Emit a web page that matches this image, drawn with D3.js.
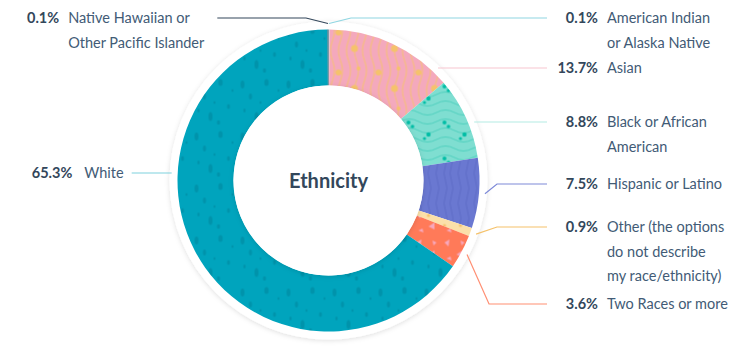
<!DOCTYPE html>
<html>
<head>
<meta charset="utf-8">
<script src="https://cdn.jsdelivr.net/npm/d3@7"></script>
<style>
  body { margin: 0; background: #fff; }
  text { font-family: Lato, "Open Sans", sans-serif; fill: #33475b; }
  .pct { font-weight: 700; font-size: 14.5px; }
  .lbl { font-size: 14.5px; fill: #425b76; }
  .title { font-weight: 700; font-size: 20px; }
</style>
</head>
<body>
<div id="chart"></div>
<script>
// data, clockwise from 12 o'clock
const categories = ['American Indian or Alaska Native', 'Asian', 'Black or African American',
  'Hispanic or Latino', 'Other (the options do not describe my race/ethnicity)',
  'Two Races or more', 'White', 'Native Hawaiian or Other Pacific Islander'];
const shares = [0.1, 13.7, 8.8, 7.5, 0.9, 3.6, 65.3, 0.1];
const labelLines = [
  ['American Indian', 'or Alaska Native'],
  ['Asian'],
  ['Black or African', 'American'],
  ['Hispanic or Latino'],
  ['Other (the options', 'do not describe', 'my race/ethnicity)'],
  ['Two Races or more'],
  ['White'],
  ['Native Hawaiian or', 'Other Pacific Islander']
];
const sliceColors = ['#8fdbe6', '#f4a9bd', '#7fded1', '#6a78d1', '#fbe0a9', '#ff7a59', '#00a4bd', '#33475b'];
const lineColors = ['#8fd6e2', '#f8c6cf', '#b4ebe4', '#7e8ad8', '#f5c26b', '#ff8f73', '#7fd1de', '#33475b'];

// label layout (first-line centre y)
const labelY = [18, 68, 122, 184, 227, 304, 173, 18];

const W = 735, H = 354;
const cx = 328.5, cy = 180.5, rOuter = 151, rInner = 95, rLine = 157;
const lineH = 24.5;

const svg = d3.select('#chart').append('svg')
    .attr('width', W).attr('height', H);
const defs = svg.append('defs');

const sh = defs.append('filter').attr('id', 'shadow')
    .attr('x', '-20%').attr('y', '-20%').attr('width', '140%').attr('height', '140%');
sh.append('feDropShadow').attr('dx', 0).attr('dy', 1).attr('stdDeviation', 2.5)
    .attr('flood-color', '#000').attr('flood-opacity', 0.13);

// textures
function pattern(id, w, h, bg, draw) {
  const p = defs.append('pattern').attr('id', id)
      .attr('patternUnits', 'userSpaceOnUse').attr('width', w).attr('height', h);
  p.append('rect').attr('width', w).attr('height', h).attr('fill', bg);
  draw(p);
}
pattern('p-white', 46, 52, sliceColors[6], p => {
  [[6,8,2,4],[14,20,1.6,3],[30,6,2.2,3.5],[38,30,1.5,2.5],[20,40,2,4.5],[8,34,1.2,2],[28,46,1.6,2.2],[42,14,1,1.6],[24,26,1,1.5]]
    .forEach(d => p.append('ellipse').attr('cx', d[0]).attr('cy', d[1]).attr('rx', d[2]).attr('ry', d[3]).attr('fill', '#0093ab'));
});
pattern('p-asian', 40, 40, sliceColors[1], p => {
  for (let i = 0; i < 5; i++) {
    p.append('path').attr('d', `M${4 + i * 8},0 q4,10 0,20 q-4,10 0,20`)
        .attr('fill', 'none').attr('stroke', '#f5c26b').attr('stroke-width', 1.2).attr('opacity', 0.75);
  }
  [[10,12,3],[26,28,3.5],[30,8,2]].forEach(d => p.append('circle').attr('cx', d[0]).attr('cy', d[1]).attr('r', d[2]).attr('fill', '#f5c26b'));
});
pattern('p-black', 36, 36, sliceColors[2], p => {
  for (let i = 0; i < 4; i++) {
    p.append('path').attr('d', `M0,${4 + i * 9} q9,-5 18,0 q9,5 18,0`)
        .attr('fill', 'none').attr('stroke', '#4fcfbe').attr('stroke-width', 1);
  }
  [[8,14,2],[12,18,1.8],[28,26,2.2],[24,30,1.6]].forEach(d => p.append('circle').attr('cx', d[0]).attr('cy', d[1]).attr('r', d[2]).attr('fill', '#00bda5'));
});
pattern('p-hisp', 30, 30, sliceColors[3], p => {
  for (let i = 0; i < 4; i++) {
    p.append('path').attr('d', `M${3 + i * 8},0 q3,8 0,15 q-3,8 0,15`)
        .attr('fill', 'none').attr('stroke', '#5d6bc6').attr('stroke-width', 1);
  }
});
pattern('p-other', 16, 10, sliceColors[4], p => {
  p.append('circle').attr('cx', 4).attr('cy', 5).attr('r', 1.6).attr('fill', '#f5c26b');
});
pattern('p-two', 28, 28, sliceColors[5], p => {
  ['M4,6 l5,-3 l-1,7 z', 'M16,18 l6,-4 l0,7 z', 'M20,4 l4,2 l-3,3 z', 'M6,22 l4,-2 l1,4 z']
    .forEach(d => p.append('path').attr('d', d).attr('fill', '#f7a8bd'));
});
const fills = ['#8fdbe6', 'url(#p-asian)', 'url(#p-black)', 'url(#p-hisp)', 'url(#p-other)', 'url(#p-two)', 'url(#p-white)', '#33475b'];

const data = categories.map((c, i) => ({name: c, value: shares[i], i}));
const pie = d3.pie().sort(null).value(d => d.value);
const arcs = pie(data);
const arc = d3.arc().innerRadius(rInner).outerRadius(rOuter);

// white halo behind the ring
svg.append('circle').attr('cx', cx).attr('cy', cy).attr('r', rOuter + 8)
    .attr('fill', '#fff').attr('filter', 'url(#shadow)');

const g = svg.append('g').attr('transform', `translate(${cx},${cy})`);
g.selectAll('path.slice')
    .data(arcs)
  .join('path')
    .attr('class', 'slice')
    .attr('d', arc)
    .attr('fill', d => fills[d.data.i]);

g.append('circle').attr('r', rInner).attr('fill', '#fff').attr('filter', 'url(#shadow)');
g.append('text').attr('class', 'title')
    .attr('text-anchor', 'middle').attr('dy', '0.35em')
    .text('Ethnicity');

// labels and connectors
const rightPctX = 598, rightTxtX = 607, rightLineEnd = 547;
const leftBlockX = 27, minRun = 40;
const polar = (a, r) => [cx + r * Math.sin(a), cy - r * Math.cos(a)];

arcs.forEach(d => {
  const i = d.data.i;
  const mid = (d.startAngle + d.endAngle) / 2;
  const right = Math.sin(mid) >= 0 || mid < 0.01;
  const y = labelY[i];

  // horizontal hit on the connector circle, if it falls inside a wide slice
  const dy = y - cy;
  let hitX = null;
  const span = d.endAngle - d.startAngle;
  if (Math.abs(dy) < rLine && span > Math.PI / 6) {
    const dx = Math.sqrt(rLine * rLine - dy * dy) * (right ? 1 : -1);
    let a = Math.atan2(dx, -dy);
    if (a < 0) a += 2 * Math.PI;
    if (a > d.startAngle && a < d.endAngle) hitX = cx + dx;
  }

  const lab = svg.append('g');
  let blockEnd;
  if (right) {
    lab.append('text').attr('class', 'pct').attr('x', rightPctX).attr('y', y).attr('dy', '0.35em')
        .attr('text-anchor', 'end').text(shares[i] + '%');
    labelLines[i].forEach((t, k) => lab.append('text').attr('class', 'lbl')
        .attr('x', rightTxtX).attr('y', y + k * lineH).attr('dy', '0.35em').text(t));
    blockEnd = rightLineEnd;
  } else {
    const pct = lab.append('text').attr('class', 'pct').attr('x', 0).attr('y', y).attr('dy', '0.35em')
        .text(shares[i] + '%');
    const tx = pct.node().getComputedTextLength() + (labelLines[i].length > 1 ? 9 : 12);
    let maxW = 0;
    labelLines[i].forEach((t, k) => {
      const tt = lab.append('text').attr('class', 'lbl')
          .attr('x', tx).attr('y', y + k * lineH).attr('dy', '0.35em').text(t);
      maxW = Math.max(maxW, tt.node().getComputedTextLength());
    });
    const blockW = tx + maxW;
    const left = hitX !== null ? hitX - minRun - 8 - blockW : leftBlockX;
    lab.attr('transform', `translate(${left},0)`);
    blockEnd = left + blockW + (hitX !== null ? 8 : 13);
  }

  let pts;
  if (hitX !== null) {
    pts = [[blockEnd, y], [hitX, y]];
  } else {
    const anchor = polar(mid, rLine);
    const bx = right ? Math.min(rightLineEnd - 50, anchor[0] + 22) : Math.max(blockEnd + 50, anchor[0] - 22);
    pts = [[blockEnd, y], [bx, y], anchor];
  }
  svg.append('path')
      .attr('d', d3.line()(pts))
      .attr('fill', 'none')
      .attr('stroke', lineColors[i])
      .attr('stroke-width', 1.2);
});
</script>
</body>
</html>
